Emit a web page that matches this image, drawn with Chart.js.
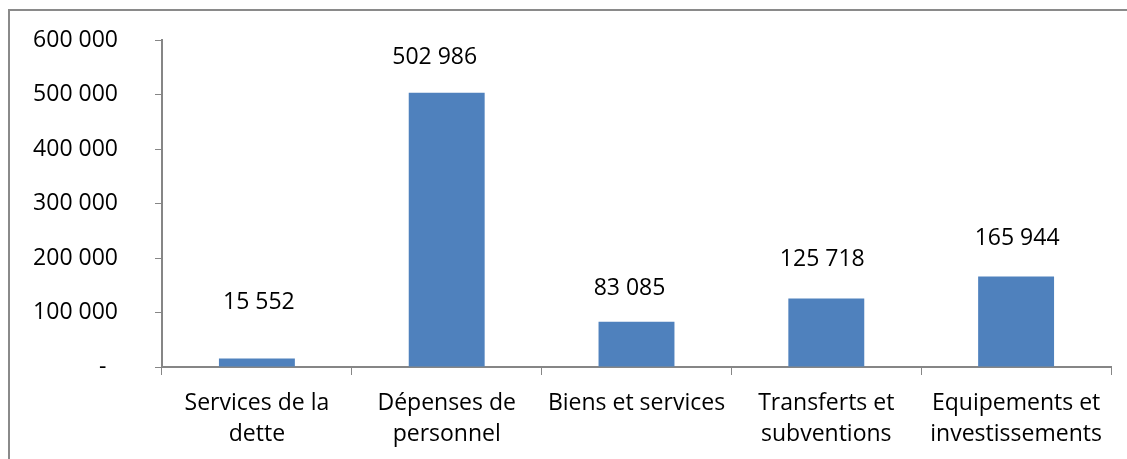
<!DOCTYPE html>
<html>
<head>
<meta charset="utf-8">
<script src="https://cdn.jsdelivr.net/npm/chart.js@4/dist/chart.umd.min.js"></script>
<style>
  html, body { margin: 0; padding: 0; background: #fff; overflow: hidden; }
  #frame { position: absolute; left: 8px; top: 9px; width: 1300px; height: 700px; border: 2px solid #8a8a8a; box-sizing: border-box; }
  #wrap { position: absolute; left: 0; top: 0; width: 1127px; height: 459px; }
</style>
</head>
<body>
<div id="frame"></div>
<div id="wrap"><canvas id="c" width="1127" height="459"></canvas></div>
<script>
const categories = [
  ["Services de la", "dette"],
  ["Dépenses de", "personnel"],
  ["Biens et services"],
  ["Transferts et", "subventions"],
  ["Equipements et", "investissements"]
];
const values = [15552, 502986, 83085, 125718, 165944];
const yTickValues = [0, 100000, 200000, 300000, 400000, 500000, 600000];

function fmt(v) {
  if (v === 0) return "-\u2002";
  return String(v).replace(/\B(?=(\d{3})+(?!\d))/g, " ");
}

const FONT = { family: "'Open Sans', sans-serif", size: 23 };
const AXIS = "#868686";

const labelPlugin = {
  id: 'barLabels',
  afterDatasetsDraw(chart, args, opts) {
    const ctx = chart.ctx;
    const meta = chart.getDatasetMeta(0);
    ctx.save();
    ctx.font = FONT.size + "px " + FONT.family;
    ctx.fillStyle = "#000";
    ctx.textAlign = "center";
    ctx.textBaseline = "alphabetic";
    meta.data.forEach((bar, i) => {
      const v = chart.data.datasets[0].data[i];
      ctx.fillText(fmt(v), bar.x + opts.dx[i], bar.y - opts.gap[i]);
    });
    ctx.restore();
  }
};

new Chart(document.getElementById('c'), {
  type: 'bar',
  data: {
    labels: categories,
    datasets: [{
      data: values,
      backgroundColor: '#4F81BD',
      borderWidth: 0,
      categoryPercentage: 1,
      barPercentage: 0.4
    }]
  },
  options: {
    responsive: false,
    animation: false,
    layout: { padding: { top: 40, right: 16, left: 0, bottom: 0 } },
    plugins: {
      legend: { display: false },
      tooltip: { enabled: false },
      barLabels: { dx: [2, -12, -7, -4, 1], gap: [50, 29, 27, 32, 32] }
    },
    scales: {
      x: {
        offset: true,
        grid: { drawOnChartArea: false, drawTicks: true, tickLength: 8, color: AXIS, offset: true },
        border: { color: AXIS, width: 2 },
        ticks: { color: '#000', font: { ...FONT, lineHeight: 1.35 }, padding: 13, maxRotation: 0, autoSkip: false },
        afterFit(s) { s.height = 92; }
      },
      y: {
        min: 0,
        max: 600000,
        afterBuildTicks(s) { s.ticks = yTickValues.map(v => ({ value: v })); },
        grid: { drawOnChartArea: false, drawTicks: true, tickLength: 7, color: AXIS },
        border: { color: AXIS, width: 2 },
        ticks: { color: '#000', font: FONT, padding: 37, callback: (v) => fmt(v) },
        afterFit(s) { s.width = 162; s.paddingTop = 14; s.paddingBottom = 0; }
      }
    }
  },
  plugins: [labelPlugin]
});
</script>
</body>
</html>
